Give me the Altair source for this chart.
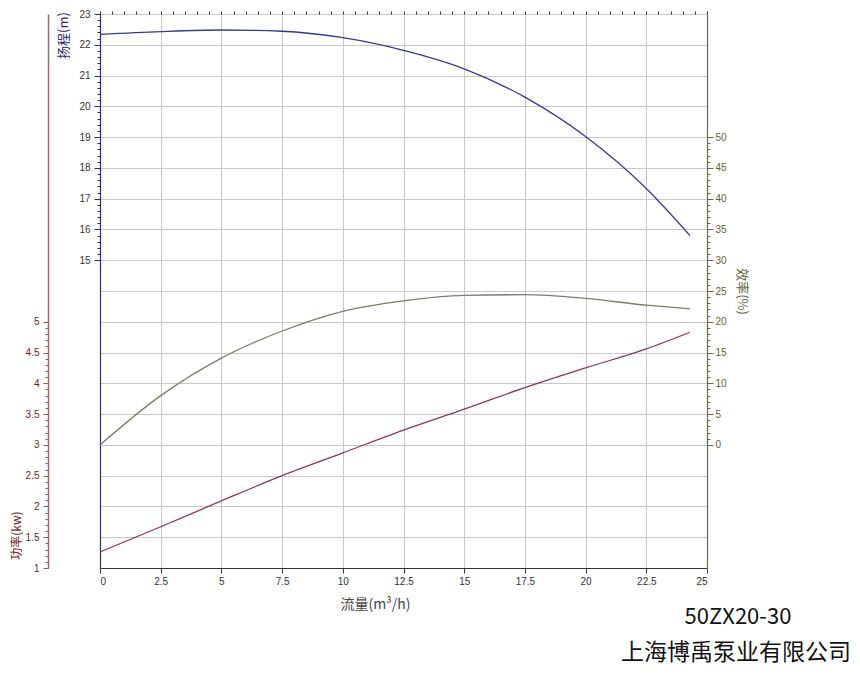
import altair as alt
import pandas as pd

# ---- data ----
flow = [0, 2.5, 5, 7.5, 10, 12.5, 15, 17.5, 20, 22.5, 24.3]
head = [22.34, 22.43, 22.48, 22.44, 22.23, 21.82, 21.22, 20.30, 19.02, 17.33, 15.80]
power = [1.26, 1.67, 2.09, 2.50, 2.87, 3.24, 3.58, 3.93, 4.25, 4.56, 4.83]
efficiency = [0.0, 8.0, 14.1, 18.5, 21.7, 23.4, 24.3, 24.4, 23.8, 22.7, 22.1]

x_ticks = [0, 2.5, 5, 7.5, 10, 12.5, 15, 17.5, 20, 22.5, 25]
x_minor = [i * 0.5 for i in range(51)]
head_ticks = [15, 16, 17, 18, 19, 20, 21, 22, 23]
head_minor = [15 + i * 0.2 for i in range(41)]
grid_lines = list(range(5, 24))
power_ticks = [1, 1.5, 2, 2.5, 3, 3.5, 4, 4.5, 5]
power_minor = [1 + i * 0.1 for i in range(41)]
eff_ticks = [0, 5, 10, 15, 20, 25, 30, 35, 40, 45, 50]
eff_minor = list(range(0, 51))

model = ["50ZX20-30"]
company = ["上海博禹泵业有限公司"]

df = pd.DataFrame({"flow": flow, "head": head, "power": power, "eff": efficiency})

W, H = 607, 554
TOP = 6
NAVY = "#3a3a88"
RED = "#8b3a4f"
OLIVE = "#7d7d66"
GRID = "#c8c8c8"
CJK = "Noto Sans CJK SC"
LAB = "Liberation Sans"

xs = alt.Scale(domain=[0, 25], nice=False, zero=False)
hs = alt.Scale(domain=[5, 23], nice=False, zero=False)
ps = alt.Scale(domain=[1, 10], nice=False, zero=False)
es = alt.Scale(domain=[-20, 70], nice=False, zero=False)

base = alt.Chart(df)

x_main_axis = alt.Axis(
    values=x_ticks, grid=True, gridColor=GRID, gridWidth=1,
    tickSize=5, tickColor="#333", domainColor="#333", labelColor="#333",
    labelFont=LAB, labelFontSize=10, labelPadding=3,
    labelExpr="datum.value + ''",
    title="流量(m³/h)", titleFont=CJK, titleFontSize=14, titleFontWeight="normal",
    titleColor="#444", titleX=275, titleY=36, titleAlign="center", titleBaseline="middle",
)
x_minor_axis = alt.Axis(values=x_minor, tickSize=3, tickColor="#333", labels=False,
                        domain=False, grid=False, title=None)

grid_layer = base.mark_line(opacity=0).encode(
    x=alt.X("flow:Q", scale=xs, axis=x_main_axis),
    y=alt.Y("head:Q", scale=hs, axis=alt.Axis(
        orient="left", values=grid_lines, grid=True, gridColor=GRID, gridWidth=1,
        labels=False, ticks=False, domain=False, title=None)),
)

head_layer = base.mark_line(color=NAVY, strokeWidth=1.3, interpolate="monotone").encode(
    x=alt.X("flow:Q", scale=xs, axis=x_minor_axis),
    y=alt.Y("head:Q", scale=hs, axis=alt.Axis(
        orient="left", values=head_ticks, grid=False, tickSize=6, tickColor="#2a2a70",
        domainColor="#2a2a70", domainWidth=1.2, labelColor="#333", labelFont=LAB,
        labelFontSize=10, labelPadding=4,
        title="扬程(m)", titleFont=CJK, titleFontSize=13, titleFontWeight="normal",
        titleColor="#2a2a70", titleAngle=270, titleX=-37, titleY=35 - 8 - TOP,
        titleAlign="center", titleBaseline="middle")),
)

head_minor_layer = base.mark_line(opacity=0).encode(
    x=alt.X("flow:Q", scale=xs, axis=None),
    y=alt.Y("head:Q", scale=hs, axis=alt.Axis(
        orient="left", values=head_minor, tickSize=3, tickColor="#2a2a70",
        labels=False, domain=False, grid=False, title=None)),
)

power_layer = base.mark_line(color=RED, strokeWidth=1.3, interpolate="monotone").encode(
    x=alt.X("flow:Q", scale=xs, axis=None),
    y=alt.Y("power:Q", scale=ps, axis=alt.Axis(
        orient="left", offset=52, values=power_ticks, grid=False, tickSize=5,
        tickColor="#8a5a5a", domainColor="#9a6a6a", domainWidth=1.5,
        labelColor="#6e1f1f", labelFont=LAB, labelFontSize=10, labelPadding=4,
        labelExpr="datum.value + ''",
        title="功率(kw)", titleFont=CJK, titleFontSize=12, titleFontWeight="normal",
        titleColor="#6e1f1f", titleAngle=270, titleX=-32, titleY=535 - 8 - TOP,
        titleAlign="center", titleBaseline="middle")),
)

power_minor_layer = base.mark_line(opacity=0).encode(
    x=alt.X("flow:Q", scale=xs, axis=None),
    y=alt.Y("power:Q", scale=ps, axis=alt.Axis(
        orient="left", offset=52, values=power_minor, tickSize=3, tickColor="#8a5a5a",
        labels=False, domain=False, grid=False, title=None)),
)

eff_layer = base.mark_line(color=OLIVE, strokeWidth=1.3, interpolate="monotone").encode(
    x=alt.X("flow:Q", scale=xs, axis=None),
    y=alt.Y("eff:Q", scale=es, axis=alt.Axis(
        orient="right", values=eff_ticks, grid=False, tickSize=6,
        tickColor="#6a6a4a", domainColor="#6a6a4a", domainWidth=1.2,
        labelColor="#5f5f3c", labelFont=LAB, labelFontSize=10, labelPadding=2,
        title="效率(%)", titleFont=CJK, titleFontSize=13, titleFontWeight="normal",
        titleColor="#5f5f3c", titleAngle=90, titleX=34, titleY=291 - 8 - TOP,
        titleAlign="center", titleBaseline="middle")),
)

eff_minor_layer = base.mark_line(opacity=0).encode(
    x=alt.X("flow:Q", scale=xs, axis=None),
    y=alt.Y("eff:Q", scale=es, axis=alt.Axis(
        orient="right", values=eff_minor, tickSize=3, tickColor="#6a6a4a",
        labels=False, domain=False, grid=False, title=None)),
)

model_text = alt.Chart(pd.DataFrame({"t": model})).mark_text(
    font=CJK, fontSize=22, color="#111", align="center", baseline="middle"
).encode(text="t:N", x=alt.value(638), y=alt.value(617 - 8 - TOP))

company_text = alt.Chart(pd.DataFrame({"t": company})).mark_text(
    font=CJK, fontSize=23, color="#111", align="right", baseline="middle"
).encode(text="t:N", x=alt.value(751), y=alt.value(653 - 8 - TOP))

chart = alt.layer(
    grid_layer, head_minor_layer, power_minor_layer, eff_minor_layer,
    eff_layer, power_layer, head_layer, model_text, company_text,
).resolve_scale(
    x="independent", y="independent"
).properties(
    width=W, height=H,
    autosize=alt.AutoSizeParams(type="none"),
    padding={"left": 92, "top": TOP, "right": 145, "bottom": 100},
    background="white",
).configure_view(strokeWidth=0)

chart.save("out.html", embed_options={"renderer": "svg", "actions": False})
